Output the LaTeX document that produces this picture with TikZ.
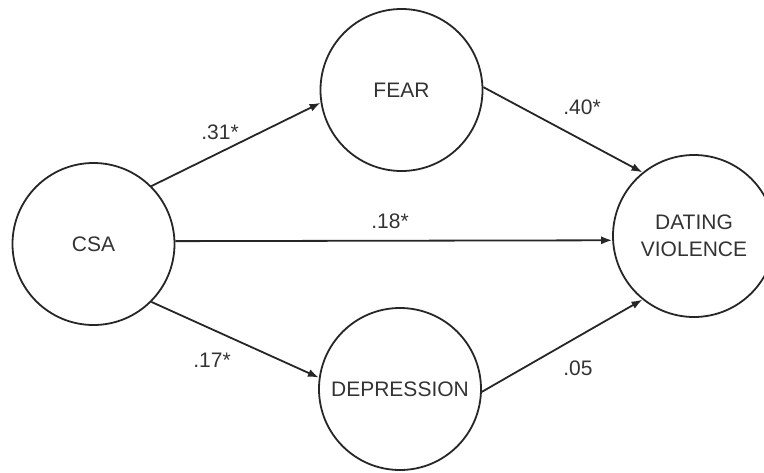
\documentclass[tikz,border=0pt]{standalone}
\usepackage{fontspec}
\setmainfont{Liberation Sans}
\usetikzlibrary{arrows.meta}

\begin{document}
\begin{tikzpicture}[x=1pt,y=-1pt,
		var/.style={draw=black!85,circle,line width=1.8pt,minimum size=162pt,inner sep=0pt,align=center,font=\fontsize{21}{27}\selectfont,text=black!80},
		link/.style={draw=black!85,line width=1.8pt,-{Latex[length=11pt,width=8pt]}},
		coef/.style={font=\fontsize{21}{24}\selectfont,text=black!80}]
		\useasboundingbox (0,0) rectangle (764,472);
		% variables
		\node[var] (csa) at (93.5,244) {CSA};
		\node[var] (fear) at (401.5,90) {FEAR};
		\node[var] (dep) at (400,389) {DEPRESSION};
		\node[var] (dv) at (694,236) {DATING\\VIOLENCE};
		% paths
		\draw[link] (csa.45) -- (fear.189);
		\draw[link] (csa.2) -- (dv.183.5);
		\draw[link] (csa.315) -- (dep.172);
		\draw[link] (fear.2) -- (dv.129);
		\draw[link] (dep.358) -- (dv.231);
		% coefficients
		\node[coef] (b1) at (220,132) {.31*};
		\node[coef] (b2) at (390,221) {.18*};
		\node[coef] (b3) at (212,360) {.17*};
		\node[coef] (b4) at (582,107) {.40*};
		\node[coef] (b5) at (578,368) {.05};
	\end{tikzpicture}
\end{document}
